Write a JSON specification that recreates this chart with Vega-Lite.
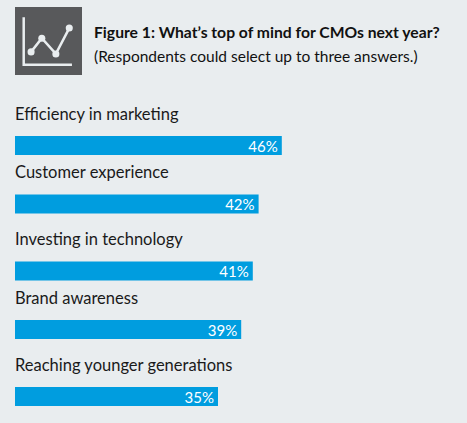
{
  "$schema": "https://vega.github.io/schema/vega-lite/v6.json",
  "width": 467,
  "height": 423,
  "autosize": {"type": "fit", "contains": "padding"},
  "padding": 0,
  "background": "#e9edef",
  "config": {"view": {"stroke": null}},
  "resolve": {"scale": {"x": "independent", "y": "independent"}},
  "layer": [
    {
      "data": {"values": [
        {"answer": "Efficiency in marketing", "share": 0.46},
        {"answer": "Customer experience", "share": 0.42},
        {"answer": "Investing in technology", "share": 0.41},
        {"answer": "Brand awareness", "share": 0.39},
        {"answer": "Reaching younger generations", "share": 0.35}
      ]},
      "encoding": {
        "x": {"field": "share", "type": "quantitative", "axis": null,
          "scale": {"domain": [0, 0.7793], "range": [15, 467], "nice": false, "zero": true}},
        "y": {"field": "answer", "type": "nominal", "axis": null,
          "scale": {"type": "point", "padding": 0, "range": [145.5, 396.5],
            "domain": ["Efficiency in marketing", "a1", "a2", "a3", "a4", "a5", "a6",
              "Customer experience", "b1", "b2", "b3", "b4", "b5", "b6", "b7",
              "Investing in technology", "c1", "c2", "c3", "c4", "c5", "c6",
              "Brand awareness", "d1", "d2", "d3", "d4", "d5", "d6", "d7",
              "Reaching younger generations"]}}
      },
      "layer": [
        {"mark": {"type": "bar", "size": 19, "color": "#009ddf"}},
        {
          "mark": {"type": "text", "align": "right", "dx": -4, "dy": 1, "font": "Lato", "fontSize": 15, "color": "#ffffff"},
          "encoding": {"text": {"field": "share", "type": "quantitative", "format": ".0%"}}
        },
        {
          "mark": {"type": "text", "align": "left", "dy": -31, "font": "Lato", "fontSize": 16.5, "color": "#1a1a1a"},
          "encoding": {
            "x": {"datum": 0},
            "text": {"field": "answer"}
          }
        }
      ]
    },
    {
      "encoding": {
        "x": {"datum": 0, "type": "quantitative", "axis": null,
          "scale": {"domain": [0, 1], "range": [94, 467]}},
        "y": {"field": "line", "type": "nominal", "axis": null,
          "scale": {"type": "point", "padding": 0, "domain": ["title", "note"], "range": [33, 57]}},
        "text": {"field": "label"}
      },
      "layer": [
        {
          "data": {"values": [{"line": "title", "label": "Figure 1: What’s top of mind for CMOs next year?"}]},
          "mark": {"type": "text", "align": "left", "font": "Lato", "fontSize": 15.7, "fontWeight": "bold", "color": "#111111"}
        },
        {
          "data": {"values": [{"line": "note", "label": "(Respondents could select up to three answers.)"}]},
          "mark": {"type": "text", "align": "left", "font": "Lato", "fontSize": 15.5, "color": "#111111"}
        }
      ]
    },
    {
      "layer": [
        {
          "data": {"values": [{"left": 0, "right": 100, "bottom": 0, "top": 100}]},
          "mark": {"type": "rect", "color": "#58595b"},
          "encoding": {
            "x": {"field": "left", "type": "quantitative", "axis": null,
              "scale": {"domain": [0, 100], "range": [15, 82]}},
            "x2": {"field": "right"},
            "y": {"field": "bottom", "type": "quantitative", "axis": null,
              "scale": {"domain": [0, 100], "range": [75, 7]}},
            "y2": {"field": "top"}
          }
        },
        {
          "data": {"values": [
            {"px": 13, "py": 85, "step": 1},
            {"px": 13, "py": 15, "step": 2},
            {"px": 85, "py": 15, "step": 3}
          ]},
          "mark": {"type": "line", "color": "#e9edef", "strokeWidth": 2.5},
          "encoding": {
            "x": {"field": "px", "type": "quantitative"},
            "y": {"field": "py", "type": "quantitative"},
            "order": {"field": "step"}
          }
        },
        {
          "data": {"values": [
            {"px": 24, "py": 34},
            {"px": 40, "py": 54},
            {"px": 61, "py": 31},
            {"px": 81, "py": 69}
          ]},
          "encoding": {
            "x": {"field": "px", "type": "quantitative"},
            "y": {"field": "py", "type": "quantitative"}
          },
          "layer": [
            {"mark": {"type": "line", "color": "#e9edef", "strokeWidth": 2.5}},
            {"mark": {"type": "point", "filled": true, "opacity": 1, "size": 50, "color": "#e9edef"}}
          ]
        }
      ]
    }
  ]
}
